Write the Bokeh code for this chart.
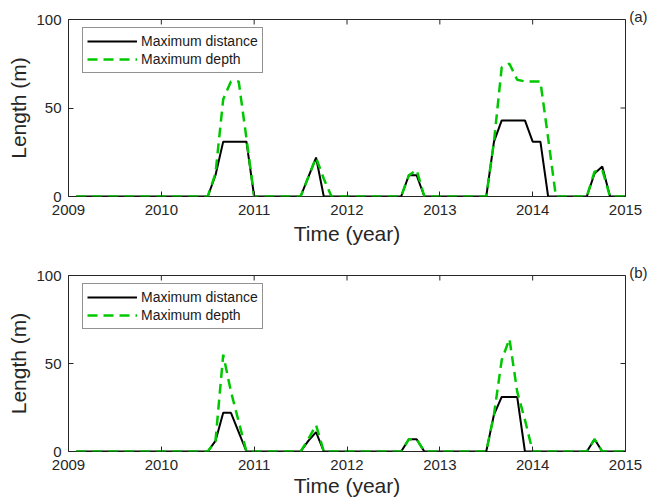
import math
from bokeh.plotting import figure
from bokeh.models import Range1d, FixedTicker, Legend, LegendItem, Title
from bokeh.layouts import column
from bokeh.embed import file_html
from bokeh.resources import INLINE

# Monthly time grid (decimal years, Feb 2009 .. Jan 2015)
time = [2009 + k / 12 for k in range(1, 73)]

# Panel (a)
distance_a = [0, 0, 0, 0, 0, 0, 0, 0, 0, 0, 0, 0,
              0, 0, 0, 0, 0, 0, 12, 31, 31, 31, 31, 0,
              0, 0, 0, 0, 0, 0, 11, 22, 0, 0, 0, 0,
              0, 0, 0, 0, 0, 0, 0, 12, 12, 0, 0, 0,
              0, 0, 0, 0, 0, 0, 31, 43, 43, 43, 43, 31,
              31, 0, 0, 0, 0, 0, 0, 13, 17, 0, 0, 0]
depth_a = [0, 0, 0, 0, 0, 0, 0, 0, 0, 0, 0, 0,
           0, 0, 0, 0, 0, 0, 13, 55, 65, 65, 33, 0,
           0, 0, 0, 0, 0, 0, 11, 22, 10, 0, 0, 0,
           0, 0, 0, 0, 0, 0, 0, 12, 15, 0, 0, 0,
           0, 0, 0, 0, 0, 0, 31, 73, 75, 66, 65, 65,
           65, 33, 0, 0, 0, 0, 0, 14, 15, 0, 0, 0]

# Panel (b)
distance_b = [0, 0, 0, 0, 0, 0, 0, 0, 0, 0, 0, 0,
              0, 0, 0, 0, 0, 0, 6, 22, 22, 11, 0, 0,
              0, 0, 0, 0, 0, 0, 6, 11, 0, 0, 0, 0,
              0, 0, 0, 0, 0, 0, 0, 7, 7, 0, 0, 0,
              0, 0, 0, 0, 0, 0, 21, 31, 31, 31, 0, 0,
              0, 0, 0, 0, 0, 0, 0, 7, 0, 0, 0, 0]
depth_b = [0, 0, 0, 0, 0, 0, 0, 0, 0, 0, 0, 0,
           0, 0, 0, 0, 0, 0, 6, 55, 34, 17, 0, 0,
           0, 0, 0, 0, 0, 0, 7, 15, 0, 0, 0, 0,
           0, 0, 0, 0, 0, 0, 0, 7, 7, 0, 0, 0,
           0, 0, 0, 0, 0, 0, 21, 52, 64, 34, 18, 0,
           0, 0, 0, 0, 0, 0, 0, 7, 0, 0, 0, 0]

x_ticks = [2009, 2010, 2011, 2012, 2013, 2014, 2015]
y_ticks = [0, 50, 100]
series_labels = ["Maximum distance", "Maximum depth"]

FONT = "Liberation Sans"
AX = "#262626"
GREEN = "#00c800"
X0, X1, Y0, Y1 = 2009, 2015, 0, 100


def make_panel(dist, depth, tag, height, top, bottom, legend_y, xlab_standoff):
    p = figure(width=650, height=height, output_backend="svg", toolbar_location=None,
               x_range=Range1d(X0, X1), y_range=Range1d(Y0, Y1),
               min_border_left=68, min_border_right=25,
               min_border_top=top, min_border_bottom=bottom)
    p.grid.visible = False
    p.outline_line_color = AX
    p.outline_line_width = 1
    p.outline_line_alpha = 1

    for ax in [p.xaxis[0], p.yaxis[0]]:
        ax.axis_line_color = None
        ax.major_tick_in = 5
        ax.major_tick_out = 0
        ax.major_tick_line_color = AX
        ax.minor_tick_line_color = None
        ax.major_label_text_font = FONT
        ax.major_label_text_font_size = "15px"
        ax.major_label_text_color = AX
        ax.axis_label_text_font = FONT
        ax.axis_label_text_font_size = "21px"
        ax.axis_label_text_font_style = "normal"
        ax.axis_label_text_color = AX
    p.xaxis.ticker = FixedTicker(ticks=x_ticks)
    p.yaxis.ticker = FixedTicker(ticks=y_ticks)
    p.xaxis.axis_label = "Time (year)"
    p.yaxis.axis_label = "Length (m)"
    p.xaxis.major_label_standoff = 8
    p.xaxis.axis_label_standoff = xlab_standoff
    p.yaxis.major_label_standoff = 7
    p.yaxis.axis_label_standoff = 3

    # inward tick marks on the top and right edges of the box (half of each dash is clipped)
    p.scatter(x=x_ticks, y=[Y1] * len(x_ticks), marker="dash", angle=math.pi / 2,
              size=10, line_color=AX, line_width=1)
    p.scatter(x=[X1] * len(y_ticks), y=y_ticks, marker="dash", angle=0,
              size=10, line_color=AX, line_width=1)

    r1 = p.line(time, dist, line_color="black", line_width=2)
    r2 = p.line(time, depth, line_color=GREEN, line_width=2.5, line_dash="10 6")

    legend = Legend(items=[LegendItem(label=series_labels[0], renderers=[r1]),
                           LegendItem(label=series_labels[1], renderers=[r2])],
                    location=(14, legend_y), padding=4, spacing=0, margin=0,
                    glyph_width=50, glyph_height=18, label_height=18, label_standoff=4,
                    label_text_font=FONT, label_text_font_size="14px", label_text_color="#1a1a1a",
                    border_line_color=AX, border_line_width=1, background_fill_alpha=1)
    p.add_layout(legend)

    p.add_layout(Title(text=tag, align="right", offset=-22, standoff=-10,
                       text_font=FONT, text_font_size="15px", text_font_style="normal",
                       text_color=AX), "above")
    return p


p1 = make_panel(distance_a, depth_a, "(a)", 258, 19, 62, 123, 4)
p2 = make_panel(distance_b, depth_b, "(b)", 243, 17, 50, 122, 1)

layout = column(p1, p2)
open("out.html", "w").write(file_html(layout, INLINE))
